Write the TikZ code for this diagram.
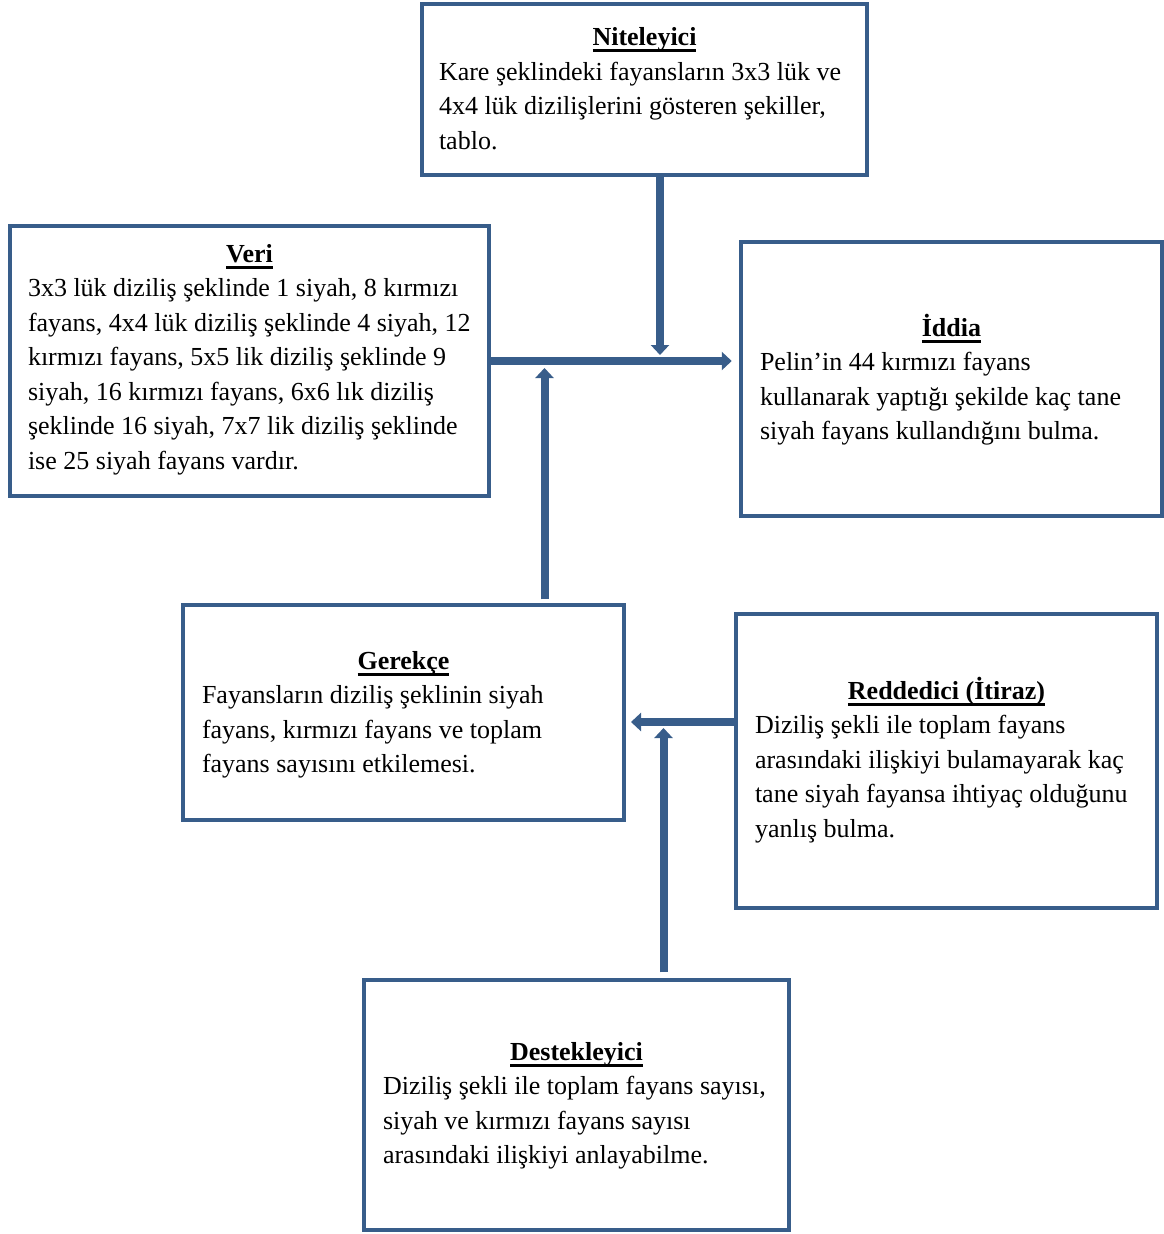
\documentclass[tikz,border=0pt]{standalone}
\usepackage{fontspec}
\setmainfont{Liberation Serif}
\usetikzlibrary{arrows.meta}
\definecolor{frame}{RGB}{56,93,138}
\newsavebox\ttlbox
% bold heading with a heavy underline
\newcommand\boxtitle[1]{\leavevmode\sbox\ttlbox{\bfseries #1}\rlap{\rule[-6.5pt]{\wd\ttlbox}{2.8pt}}\usebox\ttlbox}
\begin{document}
\begin{tikzpicture}[x=1pt,y=-1pt,
  panel/.style={draw=frame, line width=4.5pt, fill=white, inner sep=0pt, rectangle},
  body/.style={anchor=base west, inner sep=0pt, outer sep=0pt,
    font=\fontsize{26}{34.5}\selectfont},
  conn/.style={draw=frame, line width=8pt, line cap=butt,
    -{Triangle[width=18pt,length=10pt]}}]
\useasboundingbox (0,0) rectangle (1164,1234);

% frames
\node[panel, minimum width=445, minimum height=171] (nit) at (644.5,89.5) {};
\node[panel, minimum width=479, minimum height=270] (veri) at (249.5,361) {};
\node[panel, minimum width=421, minimum height=274] (iddia) at (951.5,379) {};
\node[panel, minimum width=441, minimum height=215] (ger) at (403.5,712.5) {};
\node[panel, minimum width=421, minimum height=294] (red) at (946.5,761) {};
\node[panel, minimum width=425, minimum height=250] (des) at (576.5,1105) {};

% texts
\node[body] (nit-t) at (439,45.5) {\parbox[t]{411pt}{\centering\boxtitle{Niteleyici}\par\raggedright
  Kare şeklindeki fayansların 3x3 lük ve\\
  4x4 lük dizilişlerini gösteren şekiller,\\
  tablo.}};
\node[body] (veri-t) at (28,262) {\parbox[t]{443pt}{\centering\boxtitle{Veri}\par\raggedright
  3x3 lük diziliş şeklinde 1 siyah, 8 kırmızı\\
  fayans, 4x4 lük diziliş şeklinde 4 siyah, 12\\
  kırmızı fayans, 5x5 lik diziliş şeklinde 9\\
  siyah, 16 kırmızı fayans, 6x6 lık diziliş\\
  şeklinde 16 siyah, 7x7 lik diziliş şeklinde\\
  ise 25 siyah fayans vardır.}};
\node[body] (iddia-t) at (760,336) {\parbox[t]{383pt}{\centering\boxtitle{İddia}\par\raggedright
  Pelin’in 44 kırmızı fayans\\
  kullanarak yaptığı şekilde kaç tane\\
  siyah fayans kullandığını bulma.}};
\node[body] (ger-t) at (202,669) {\parbox[t]{403pt}{\centering\boxtitle{Gerekçe}\par\raggedright
  Fayansların diziliş şeklinin siyah\\
  fayans, kırmızı fayans ve toplam\\
  fayans sayısını etkilemesi.}};
\node[body] (red-t) at (755,699) {\parbox[t]{383pt}{\centering\boxtitle{Reddedici (İtiraz)}\par\raggedright
  Diziliş şekli ile toplam fayans\\
  arasındaki ilişkiyi bulamayarak kaç\\
  tane siyah fayansa ihtiyaç olduğunu\\
  yanlış bulma.}};
\node[body] (des-t) at (383,1060) {\parbox[t]{387pt}{\centering\boxtitle{Destekleyici}\par\raggedright
  Diziliş şekli ile toplam fayans sayısı,\\
  siyah ve kırmızı fayans sayısı\\
  arasındaki ilişkiyi anlayabilme.}};

% arrow ends
\coordinate (tipN) at (660,355);
\coordinate (tipG) at (544.5,368);
\coordinate (tipR) at (631,722);
\coordinate (tipD) at (663.5,728);

% connectors
\draw[conn, shorten >=7pt] (veri.east) -- (veri.east -| iddia.west);
\draw[conn] (nit.south -| tipN) -- (tipN);
\draw[conn, shorten <=3.5pt] (ger.north -| tipG) -- (tipG);
\draw[conn] (red.west |- tipR) -- (tipR);
\draw[conn, shorten <=5.5pt] (des.north -| tipD) -- (tipD);
\end{tikzpicture}
\end{document}
